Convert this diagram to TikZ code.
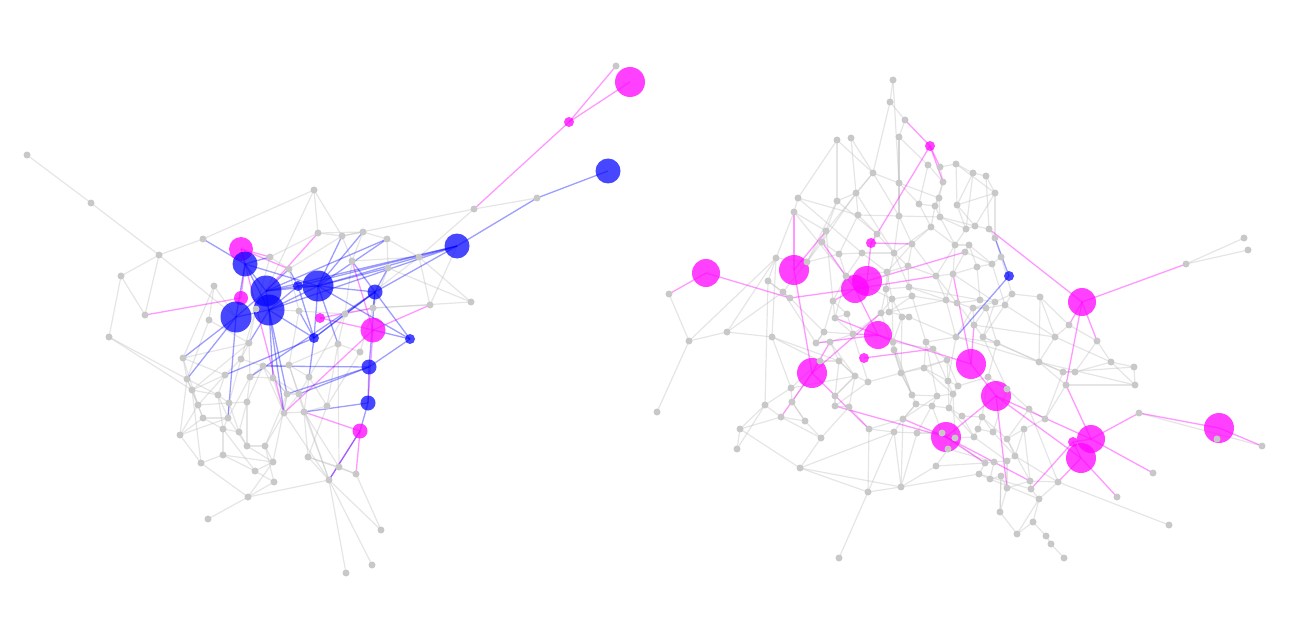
\documentclass[tikz,border=0pt]{standalone}
\usetikzlibrary{backgrounds}
\definecolor{mag}{HTML}{FF00FF}
\definecolor{blu}{HTML}{0000FF}
\definecolor{gnd}{HTML}{C8C8C8}
\definecolor{ged}{HTML}{BEBEBE}
\pgfdeclarelayer{edges}
\pgfsetlayers{edges,main}
\tikzset{
  gnode/.style={circle,fill=gnd,inner sep=0pt,minimum size=7pt},
  mnode/.style={circle,fill=mag,fill opacity=0.75,inner sep=0pt},
  bnode/.style={circle,fill=blu,fill opacity=0.72,inner sep=0pt},
  gedge/.style={draw=ged,line width=1.2pt,opacity=0.4},
  medge/.style={draw=mag,line width=1.3pt,opacity=0.4},
  bedge/.style={draw=blu,line width=1.3pt,opacity=0.38},
}
\begin{document}
\begin{tikzpicture}[x=1pt,y=-1pt]
\useasboundingbox (0,0) rectangle (1289,639);
% ---------- coloured nodes ----------
\foreach \n/\x/\y/\d in {m1/630/82/30,m2/569/122/10,m3/241/249/24,m4/241/298/14,m5/320/318/10,m6/373/330/25,m7/360/431/15,
  M1/706/273/28,M2/794/270/30,M3/867/281/30,M4/855/289/28,M5/878/335/28,M6/812/373/30,M7/971/364/30,M8/996/396/30,
  M9/946/437/30,M10/1082/302/28,M11/1091/439/28,M12/1081/458/30,M13/1219/428/30,M14/1073/442/10,M15/930/146/10,
  M16/871/243/10,M17/864/358/10}
  \node[mnode,minimum size=\d pt] (\n) at (\x,\y) {};
\foreach \n/\x/\y/\d in {b1/608/171/25,b2/457/246/25,b3/245/264/25,b4/266/291/31,b5/318/286/31,b6/269/310/31,b7/236/317/31,
  b8/298/286/10,b9/375/292/15,b10/314/338/10,b11/410/339/10,b12/369/367/15,b13/368/403/15,B1/1009/276/10}
  \node[bnode,minimum size=\d pt] (\n) at (\x,\y) {};
% ---------- grey nodes, left ----------
\foreach \n/\x/\y in {l1/27/155,l2/91/203,l3/159/255,l4/121/276,l5/145/315,l6/109/337,l7/203/239,l8/214/286,l9/209/320,
  l10/270/257,l11/289/269,l12/318/233,l13/342/236,l14/363/232,l15/387/239,l16/352/261,l17/388/268,l18/419/257,
  l19/430/305,l20/471/302,l21/299/311,l22/345/314,l23/373/308,l24/338/344,l25/360/352,l26/249/343,l27/183/358,
  l28/187/379,l29/241/359,l30/263/366,l31/289/365,l32/309/377,l33/225/375,l34/250/377,l35/273/378,l36/192/390,
  l37/218/395,l38/247/402,l39/229/403,l40/287/394,l41/299/394,l42/327/406,l43/198/405,l44/203/418,l45/228/418,
  l46/284/413,l47/304/412,l48/180/435,l49/223/429,l50/239/432,l51/247/446,l52/265/446,l53/201/463,l54/223/455,
  l55/273/462,l56/308/457,l57/256/309,l58/255/471,l59/274/482,l60/339/467,l61/329/480,l62/356/474,l63/248/497,
  l64/208/519,l65/381/530,l66/372/565,l67/346/573,l68/314/190,l69/474/209,l70/537/198,l71/616/66}
  \node[gnode] (\n) at (\x,\y) {};
% ---------- grey nodes, right ----------
\foreach \n/\x/\y in {r1/893/80,r2/890/102,r3/905/120,r4/837/140,r5/851/138,r6/899/137,r7/928/165,r8/940/167,r9/956/164,
  r10/943/182,r11/973/173,r12/986/176,r13/873/173,r14/899/183,r15/856/193,r16/798/198,r17/837/201,r18/919/204,
  r19/939/198,r20/957/205,r21/935/206,r22/995/193,r23/794/212,r24/899/216,r25/858/215,r26/940/217,r27/931/227,
  r28/966/229,r29/975/226,r30/989/229,r31/826/231,r32/877/234,r33/822/242,r34/912/244,r35/955/245,r36/969/245,
  r37/965/252,r38/995/238,r39/776/258,r40/807/262,r41/839/254,r42/862/253,r43/894/253,r44/908/266,r45/887/272,
  r46/936/276,r47/953/274,r48/977/267,r49/992/264,r50/768/281,r51/783/292,r52/790/298,r53/846/276,r54/886/289,
  r55/909/287,r56/912/296,r57/892/299,r58/833/301,r59/946/300,r60/957/303,r61/980/300,r62/995/302,r63/973/308,
  r64/689/341,r65/727/332,r66/772/337,r67/835/318,r68/847/314,r69/824/332,r70/853/334,r71/881/313,r72/889/312,
  r73/902/317,r74/909/317,r75/893/342,r76/926/342,r77/933/349,r78/974/325,r79/983/337,r80/997/343,r81/816/343,
  r82/830/342,r83/839/361,r84/820/361,r85/855/376,r86/901/373,r87/924/368,r88/947/360,r89/1186/264,r90/1248/250,
  r91/1040/297,r92/1012/294,r93/1005/305,r94/986/308,r95/1001/257,r96/1069/325,r97/1055/337,r98/1097/341,
  r99/956/337,r100/1039/362,r101/1063/372,r102/1075/372,r103/1066/385,r104/1111/362,r105/1134/367,r106/1135/385,
  r107/1139/413,r108/1262/446,r109/1153/473,r110/1117/497,r111/1169/525,r112/894/350,r113/948/381,r114/958/386,
  r115/988/377,r116/1007/389,r117/1029/409,r118/1045/419,r119/1024/429,r120/953/394,r121/937/396,r122/912/395,
  r123/916/404,r124/932/406,r125/949/408,r126/962/416,r127/982/417,r128/903/419,r129/894/432,r130/917/433,
  r131/942/433,r132/955/438,r133/948/449,r134/936/466,r135/901/487,r136/974/437,r137/978/429,r138/993/432,
  r139/1007/439,r140/1015/456,r141/1007/461,r142/994/462,r143/985/463,r144/979/474,r145/990/479,r146/1001/476,
  r147/1007/488,r148/1030/481,r149/1031/489,r150/1039/499,r151/1058/482,r152/1000/512,r153/1033/522,r154/1017/534,
  r155/1046/536,r156/1051/544,r157/1064/558,r158/791/388,r159/792/402,r160/765/405,r161/781/417,r162/740/429,
  r163/737/449,r164/800/468,r165/805/421,r166/821/438,r167/835/396,r168/835/406,r169/849/407,r170/869/429,
  r173/868/492,r174/839/558,r175/868/382,r176/657/412,r177/669/294,r178/1217/439,r179/1244/238}
  \node[gnode] (\n) at (\x,\y) {};
% ---------- connectors ----------
\begin{pgfonlayer}{edges}
% grey, left
\foreach \a/\b in {l1/l2,l2/l3,l3/b7,l3/l4,l4/l6,l5/l3,l6/l28,l4/l5,l7/l3,l68/l7,l68/b4,l12/l13,l13/l14,l14/l15,l13/l16,
  l15/l17,l15/l18,l18/l19,l17/l20,l16/l22,l22/l23,l13/l11,l11/l10,l10/l57,l8/l9,l8/b7,l9/l26,l21/l22,l24/l25,l24/l22,
  l25/l23,l19/b2,l18/l69,l69/l13,l26/l27,l27/l28,l28/l36,l36/l43,l43/l44,l44/l48,l48/l53,l53/l54,l54/l49,l49/l45,
  l45/l39,l39/l37,l37/l33,l33/l29,l29/l30,l30/l31,l31/l32,l32/l41,l41/l40,l40/l35,l35/l34,l34/l38,l38/l39,l38/l51,
  l51/l52,l52/l55,l55/l58,l58/l59,l59/l63,l63/l64,l63/l61,l61/l65,l61/l66,l61/l67,l61/l56,l56/l47,l47/l46,l46/l40,
  l46/l52,l42/l47,l42/l24,l60/l62,l60/l56,l57/l29,l28/l37,l36/l37,l43/l39,l44/l45,l50/l49,l50/l51,l50/l38,l54/l55,
  l53/l63,l59/l52,l32/l42,l31/l41,l29/l26,l33/l36,l34/l30,l35/l41,l27/l33,l28/l48,l30/l40,l44/l49,l47/l60,l46/l61,
  l41/l61,l24/l31,l21/l31,l69/l70,l68/l12,l20/l23,l18/l16,l12/l10,l62/l65,l26/l34,l37/l45,l40/l55,l6/l36,l48/l45,
  l9/l28,l57/l26,l22/l32,l25/l42,l55/l63,l58/l54,l12/l14,l68/l13,l14/l16,l18/l22,l17/l23,l19/l23,l20/l18,l11/l21,
  l26/l36,l27/l43,l29/l39,l30/l46,l31/l47,l33/l43,l34/l45,l35/l46,l37/l49,l39/l50,l40/l52,l42/l56,l43/l48,l28/l44,
  l36/l53,l45/l51,l47/l61,l49/l58,l51/l55,l56/l62,l60/l24,l32/l47,l30/l38,l41/l46,l8/l27,l57/l21}
  \draw[gedge] (\a.center) -- (\b.center);
% grey, right
\foreach \a/\b in {r1/r2,r2/r3,r3/r6,r2/r13,r6/r14,r4/r16,r5/r15,r13/r15,r13/r14,r13/r24,r14/r18,r14/r24,r7/r10,r8/r10,
  r9/r11,r11/r12,r12/r22,r10/r19,r19/r21,r18/r21,r20/r22,r20/r28,r19/r26,r21/r27,r26/r28,r27/r34,r28/r29,r29/r30,
  r30/r38,r28/r35,r35/r36,r36/r37,r37/r49,r35/r46,r27/r43,r24/r25,r25/r15,r15/r17,r16/r23,r23/r31,r17/r31,r25/r32,
  r31/r33,r33/r40,r40/r39,r39/r50,r50/r51,r51/r52,r40/r41,r41/r42,r42/r43,r43/r44,r44/r45,r45/r54,r54/r55,r55/r56,
  r56/r57,r57/r53,r53/r42,r53/r58,r58/r67,r67/r68,r68/r70,r69/r70,r69/r81,r81/r82,r82/r83,r83/r84,r84/r66,r66/r65,
  r65/r64,r64/r176,r65/r51,r44/r46,r46/r47,r47/r48,r48/r49,r49/r95,r95/r38,r47/r59,r59/r60,r60/r61,r61/r62,r62/r63,
  r63/r78,r78/r79,r79/r80,r80/r99,r99/r76,r76/r77,r77/r75,r75/r73,r73/r74,r74/r72,r72/r71,r71/r57,r56/r72,r85/r175,
  r175/r86,r86/r87,r87/r88,r88/r113,r113/r114,r114/r115,r115/r116,r116/r117,r117/r118,r118/r119,r119/r139,r139/r140,
  r140/r141,r141/r142,r142/r143,r143/r144,r144/r145,r145/r146,r146/r147,r147/r148,r148/r149,r149/r150,r150/r151,
  r147/r152,r152/r154,r154/r153,r153/r155,r155/r156,r156/r157,r150/r153,r121/r122,r122/r123,r123/r124,r124/r125,
  r125/r126,r126/r127,r127/r138,r138/r137,r137/r136,r136/r132,r132/r131,r131/r130,r130/r129,r129/r128,r128/r123,
  r133/r134,r134/r135,r129/r135,r120/r121,r120/r125,r166/r165,r165/r159,r159/r158,r160/r161,r161/r162,r162/r163,
  r160/r50,r164/r166,r167/r168,r168/r169,r169/r170,r170/r129,r167/r85,r85/r83,r173/r174,r173/r129,r96/r97,r97/r100,
  r100/r101,r101/r102,r102/r104,r104/r105,r104/r106,r100/r103,r91/r92,r92/r93,r93/r94,r89/r90,r89/r179,r107/r108,
  r111/r151,r135/r130,r39/r64,r163/r160,r4/r17,r5/r13,r6/r7,r8/r9,r11/r20,r22/r29,r16/r25,r33/r41,r23/r39,r32/r43,
  r34/r44,r36/r48,r45/r53,r54/r71,r55/r59,r60/r63,r62/r92,r93/r97,r91/r96,r78/r97,r59/r99,r73/r86,r75/r112,r112/r86,
  r76/r87,r77/r88,r80/r115,r99/r113,r114/r120,r115/r127,r116/r138,r117/r139,r118/r101,r119/r140,r121/r128,r122/r86,
  r124/r131,r126/r136,r132/r133,r137/r127,r134/r143,r141/r147,r142/r145,r144/r149,r148/r151,r150/r154,r85/r167,
  r158/r66,r159/r165,r164/r135,r166/r169,r168/r175,r170/r128,r81/r69,r82/r70,r84/r158,r83/r85,r57/r73,r62/r79,
  r99/r100,r100/r106,r102/r98,r103/r118,r105/r106,r91/r97,r12/r30,r9/r20,r26/r35,r18/r27,r24/r34,r63/r94,r94/r80,
  r87/r113,r86/r122,r123/r128,r135/r144,r152/r146,r145/r150,r162/r160,r64/r177,r65/r39,r165/r161,r164/r173,
  r43/r55,r48/r61,r93/r79,r38/r22,r21/r26,
  r1/r14,r6/r24,r13/r31,r14/r19,r15/r33,r17/r40,r24/r43,r24/r26,r25/r41,r31/r40,r34/r45,r35/r47,r36/r49,r37/r47,
  r26/r29,r44/r55,r46/r59,r45/r57,r53/r67,r54/r72,r56/r60,r57/r75,r58/r69,r40/r51,r50/r52,r39/r66,r16/r42,r23/r53,
  r15/r43,r4/r13,r17/r32,r31/r58,r51/r81,r52/r69,r66/r83,r84/r159,r83/r167,r70/r175,r71/r86,r75/r122,r76/r121,
  r77/r120,r79/r116,r88/r114,r113/r125,r120/r132,r121/r130,r125/r136,r127/r139,r131/r143,r133/r142,r136/r141,
  r138/r140,r139/r148,r140/r151,r119/r148,r117/r151,r146/r152,r128/r135,r164/r129,r161/r166,r160/r158,r158/r85,
  r169/r85,r162/r164,r170/r173,r173/r135,r91/r100,r97/r104,r101/r105,r103/r106,r96/r98,r98/r104,r92/r95,r80/r100,
  r79/r101,r9/r22,r7/r18,r10/r21,r20/r29,r11/r28,r27/r35,r34/r46,r43/r54,r42/r45,r41/r53,r58/r68,r67/r70,r70/r71,
  r72/r59,r74/r99,r60/r78,r63/r99,r56/r76,r55/r61,r46/r60,r47/r62,r49/r93,r94/r78,r82/r85,r86/r88,r87/r120,r112/r122}
  \draw[gedge] (\a.center) -- (\b.center);
% magenta connectors
\foreach \a/\b in {m1/m2,m2/l71,m2/l69,m3/l10,m3/b3,l12/b4,m4/l5,m4/b3,m5/l23,m5/m6,m6/l19,m6/l16,m6/b13,m6/l46,
  m7/l47,m7/l62,m7/l61,m3/l46,m3/l11,
  M1/r177,M1/r52,r52/M4,M2/r23,M2/r31,M2/M6,M15/r3,M15/r10,M15/r32,r32/M16,M16/r34,M16/M3,M3/r37,M3/M4,M4/M5,
  M4/r33,M4/r58,M5/r67,M5/r75,M5/M7,M17/r77,M6/r161,M6/r170,M6/r82,M6/r71,r168/M9,M9/M8,M9/r148,M9/r143,
  M9/r128,M7/M8,M7/r78,M7/r47,M8/M11,M8/M12,M8/r147,M14/M11,M14/r149,M12/r110,M12/r151,M11/r107,r107/M13,
  M13/r108,M11/r109,M10/r30,M10/r89,M10/r96,M10/r98,M10/r103,r103/M11,M12/M14,M4/r46,M5/r81,M5/r70,M15/r8}
  \draw[medge] (\a.center) -- (\b.center);
% blue connectors
\foreach \a/\b in {b2/l70,l70/b1,b2/b5,b2/b9,b2/b8,b3/b4,b3/b6,b3/l10,b3/l7,b4/b5,b4/b8,b4/b7,b5/b8,b5/b9,b5/l14,
  b5/l15,b5/l17,b5/b10,b7/l27,b7/l45,b6/l26,b6/l40,b9/b11,b9/b12,b9/l16,b9/l23,b11/m6,b11/b5,b12/b13,b12/l41,
  b13/l47,b13/m7,b10/l32,b10/l21,b10/b9,m7/l61,l34/b9,l33/b10,b6/b5,b4/b6,b7/b6,b3/b5,b8/l11,b6/l35,
  b5/l13,b4/l11,b6/b10,b10/l22,b9/l22,b7/l28,b3/b7,b8/b10,b2/b4,b2/b6,l15/b4,l17/b9,b12/l30,b11/b12,b5/l24,
  b6/l46,b8/b6,b12/l40,
  B1/r38,B1/r99}
  \draw[bedge] (\a.center) -- (\b.center);
\end{pgfonlayer}
\end{tikzpicture}
\end{document}
